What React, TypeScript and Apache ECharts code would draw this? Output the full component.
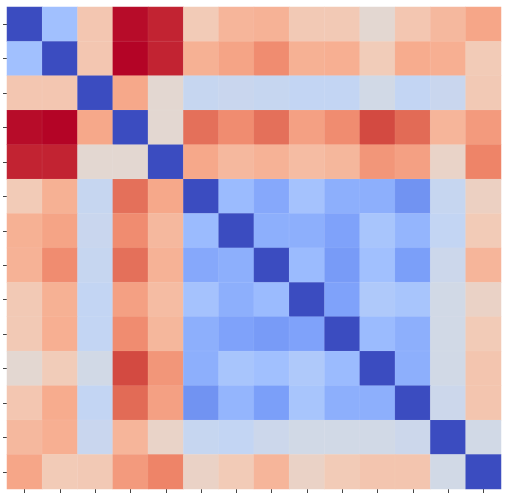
import React, { useEffect, useRef } from "react";
import * as echarts from "echarts";

const labels = ["0", "1", "2", "3", "4", "5", "6", "7", "8", "9", "10", "11", "12", "13"];

const row0 = [0, 0.31, 0.615, 0.99, 0.96, 0.6, 0.67, 0.68, 0.605, 0.605, 0.53, 0.615, 0.66, 0.715];
const row1 = [0.31, 0, 0.615, 1.0, 0.96, 0.685, 0.72, 0.78, 0.685, 0.69, 0.595, 0.7, 0.69, 0.6];
const row2 = [0.615, 0.615, 0, 0.71, 0.53, 0.42, 0.43, 0.42, 0.41, 0.41, 0.46, 0.41, 0.43, 0.605];
const row3 = [0.99, 1.0, 0.71, 0, 0.53, 0.84, 0.78, 0.84, 0.73, 0.78, 0.91, 0.85, 0.67, 0.745];
const row4 = [0.96, 0.96, 0.53, 0.53, 0, 0.71, 0.66, 0.68, 0.65, 0.665, 0.755, 0.73, 0.555, 0.8];
const row5 = [0.6, 0.685, 0.42, 0.84, 0.71, 0, 0.29, 0.23, 0.32, 0.25, 0.25, 0.17, 0.42, 0.57];
const row6 = [0.685, 0.72, 0.43, 0.78, 0.66, 0.29, 0, 0.25, 0.25, 0.21, 0.33, 0.27, 0.41, 0.6];
const row7 = [0.68, 0.78, 0.42, 0.84, 0.68, 0.23, 0.25, 0, 0.29, 0.19, 0.31, 0.2, 0.44, 0.67];
const row8 = [0.605, 0.685, 0.41, 0.73, 0.65, 0.32, 0.25, 0.29, 0, 0.21, 0.35, 0.33, 0.46, 0.56];
const row9 = [0.605, 0.69, 0.41, 0.78, 0.665, 0.25, 0.21, 0.19, 0.21, 0, 0.29, 0.25, 0.46, 0.6];
const row10 = [0.53, 0.595, 0.46, 0.91, 0.755, 0.25, 0.33, 0.31, 0.35, 0.29, 0, 0.25, 0.46, 0.62];
const row11 = [0.615, 0.7, 0.41, 0.85, 0.73, 0.17, 0.27, 0.2, 0.33, 0.25, 0.25, 0, 0.44, 0.62];
const row12 = [0.66, 0.69, 0.43, 0.67, 0.555, 0.42, 0.41, 0.44, 0.46, 0.46, 0.46, 0.44, 0, 0.46];
const row13 = [0.715, 0.6, 0.605, 0.745, 0.8, 0.56, 0.6, 0.67, 0.56, 0.6, 0.62, 0.62, 0.46, 0];

const rows = [row0, row1, row2, row3, row4, row5, row6, row7, row8, row9, row10, row11, row12, row13];

const coolwarm = [
  "#3b4cc0", "#5977e3", "#7b9ff9", "#9ebeff", "#c0d4f5", "#dddcdc",
  "#f2cbb7", "#f7ac8e", "#ee8468", "#d65244", "#b40426",
];

export default function App() {
  const ref = useRef<HTMLDivElement>(null);
  useEffect(() => {
    if (!ref.current) return;
    const chart = echarts.init(ref.current, undefined, { renderer: "svg" });
    const data: [number, number, number][] = [];
    rows.forEach((r, yi) => r.forEach((v, xi) => data.push([xi, yi, v])));
    const axisCommon = {
      type: "category" as const,
      data: labels,
      axisLine: { show: false },
      axisLabel: { show: false },
      axisTick: { show: true, alignWithLabel: true, length: 4, lineStyle: { color: "#444", width: 1 } },
      splitLine: { show: false },
    };
    chart.setOption({
      animation: false,
      backgroundColor: "#ffffff",
      grid: { left: 7, right: 12, top: 7, bottom: 4, containLabel: false },
      xAxis: { ...axisCommon },
      yAxis: { ...axisCommon, inverse: true },
      visualMap: {
        show: false,
        min: 0,
        max: 1,
        dimension: 2,
        inRange: { color: coolwarm },
      },
      series: [
        {
          type: "heatmap",
          data,
          itemStyle: { borderColor: "rgba(255,255,255,0.12)", borderWidth: 0.5 },
          emphasis: { disabled: true },
        },
      ],
    });
    return () => chart.dispose();
  }, []);
  return (
    <div
      ref={ref}
      style={{ position: "absolute", left: 0, top: 0, width: 513, height: 493 }}
    />
  );
}
